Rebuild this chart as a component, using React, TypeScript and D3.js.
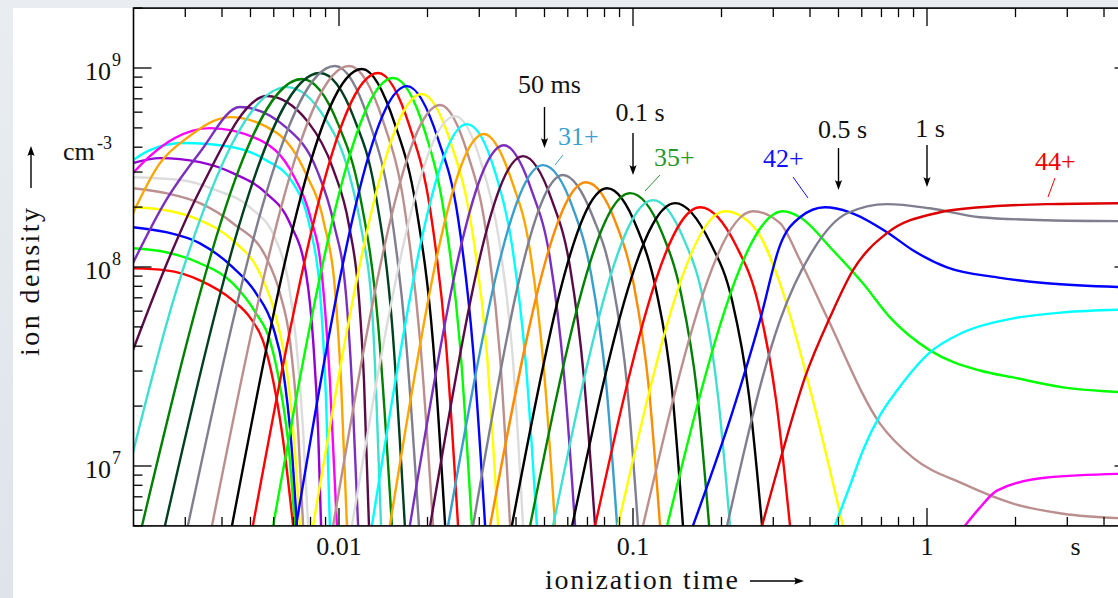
import React from 'react';
import * as d3 from 'd3';

// ---------- data ----------
// every point: [log10(time / s), log10(ion density / cm^-3)]
const q3 = [[-2.701,7.993],[-2.588,7.983],[-2.473,7.933],[-2.361,7.832],[-2.303,7.747],[-2.259,7.631],[-2.224,7.430],[-2.190,7.128],[-2.156,6.700]];
const q4 = [[-2.701,8.094],[-2.588,8.074],[-2.473,8.019],[-2.361,7.918],[-2.282,7.767],[-2.235,7.631],[-2.201,7.405],[-2.170,7.078],[-2.150,6.700]];
const q5 = [[-2.701,8.200],[-2.588,8.175],[-2.473,8.119],[-2.361,7.998],[-2.282,7.868],[-2.224,7.697],[-2.190,7.480],[-2.163,7.128],[-2.143,6.700]];
const q6 = [[-2.701,8.300],[-2.588,8.285],[-2.473,8.235],[-2.361,8.134],[-2.269,7.968],[-2.214,7.747],[-2.173,7.430],[-2.150,7.078],[-2.133,6.700]];
const q7 = [[-2.701,8.396],[-2.588,8.371],[-2.473,8.321],[-2.361,8.220],[-2.248,8.049],[-2.201,7.868],[-2.167,7.631],[-2.139,7.178],[-2.122,6.700]];
const q8 = [[-2.701,8.451],[-2.531,8.436],[-2.418,8.386],[-2.303,8.300],[-2.214,8.134],[-2.173,7.933],[-2.146,7.631],[-2.122,7.178],[-2.105,6.700]];
const q9 = [[-2.701,8.522],[-2.609,8.547],[-2.473,8.527],[-2.361,8.472],[-2.248,8.371],[-2.167,8.220],[-2.112,7.968],[-2.088,7.631],[-2.071,7.178],[-2.061,6.700]];
const q10 = [[-2.701,8.537],[-2.643,8.587],[-2.531,8.623],[-2.361,8.602],[-2.248,8.537],[-2.156,8.421],[-2.099,8.200],[-2.065,7.883],[-2.044,7.329],[-2.031,6.700]];
const q11 = [[-2.701,8.472],[-2.643,8.557],[-2.558,8.648],[-2.439,8.698],[-2.269,8.638],[-2.156,8.462],[-2.099,8.260],[-2.058,7.958],[-2.031,7.430],[-2.007,6.700]];
const q12 = [[-2.701,8.270],[-2.609,8.522],[-2.517,8.648],[-2.371,8.753],[-2.211,8.673],[-2.112,8.467],[-2.051,8.220],[-2.014,7.893],[-1.993,7.420],[-1.973,6.700]];
const q13 = [[-2.701,8.019],[-2.588,8.336],[-2.473,8.577],[-2.337,8.804],[-2.177,8.698],[-2.075,8.487],[-2.017,8.215],[-1.976,7.858],[-1.956,7.415],[-1.935,6.700]];
const q14 = [[-2.701,7.581],[-2.588,8.009],[-2.473,8.386],[-2.245,8.859],[-2.105,8.728],[-2.020,8.492],[-1.966,8.210],[-1.932,7.842],[-1.915,7.430],[-1.898,6.700]];
const q15 = [[-2.701,7.067],[-2.551,7.893],[-2.177,8.904],[-2.048,8.748],[-1.969,8.487],[-1.922,8.175],[-1.888,7.802],[-1.874,7.385],[-1.857,6.700]];
const q16 = [[-2.670,6.700],[-2.126,8.945],[-2.003,8.718],[-1.929,8.361],[-1.867,7.712],[-1.820,6.700]];
const q17 = [[-2.592,6.700],[-2.065,8.975],[-1.949,8.748],[-1.878,8.386],[-1.820,7.722],[-1.776,6.700]];
const q18 = [[-2.514,6.700],[-2.014,9.010],[-1.898,8.733],[-1.827,8.316],[-1.772,7.626],[-1.728,6.700]];
const q19 = [[-2.432,6.700],[-1.966,9.010],[-1.850,8.733],[-1.779,8.316],[-1.724,7.626],[-1.680,6.700]];
const q20 = [[-2.364,6.700],[-1.922,8.995],[-1.810,8.718],[-1.738,8.305],[-1.680,7.616],[-1.639,6.700]];
const q21 = [[-2.293,6.700],[-1.867,8.975],[-1.759,8.703],[-1.690,8.290],[-1.636,7.611],[-1.595,6.700]];
const q22 = [[-2.224,6.700],[-1.816,8.950],[-1.707,8.678],[-1.643,8.275],[-1.588,7.601],[-1.548,6.700]];
const q23 = [[-2.146,6.700],[-1.769,8.909],[-1.663,8.643],[-1.595,8.245],[-1.544,7.586],[-1.503,6.700]];
const q24 = [[-2.088,6.700],[-1.718,8.869],[-1.616,8.607],[-1.551,8.220],[-1.497,7.566],[-1.459,6.700]];
const q25 = [[-2.020,6.700],[-1.656,8.814],[-1.561,8.562],[-1.500,8.180],[-1.452,7.546],[-1.418,6.700]];
const q26 = [[-1.956,6.700],[-1.605,8.758],[-1.514,8.512],[-1.456,8.139],[-1.408,7.525],[-1.374,6.700]];
const q27 = [[-1.888,6.700],[-1.565,8.718],[-1.469,8.477],[-1.412,8.114],[-1.364,7.505],[-1.327,6.700]];
const q28 = [[-1.827,6.700],[-1.507,8.668],[-1.412,8.431],[-1.350,8.079],[-1.303,7.485],[-1.265,6.700]];
const q29 = [[-1.759,6.700],[-1.439,8.612],[-1.344,8.381],[-1.282,8.039],[-1.235,7.465],[-1.197,6.700]];
const q30 = [[-1.690,6.700],[-1.374,8.557],[-1.276,8.336],[-1.214,7.998],[-1.167,7.445],[-1.129,6.700]];
const q31 = [[-1.629,6.700],[-1.306,8.512],[-1.204,8.295],[-1.143,7.968],[-1.092,7.425],[-1.054,6.700]];
const q32 = [[-1.544,6.700],[-1.238,8.462],[-1.136,8.250],[-1.071,7.933],[-1.020,7.405],[-0.983,6.700]];
const q33 = [[-1.486,6.700],[-1.160,8.426],[-1.058,8.220],[-0.997,7.908],[-0.946,7.390],[-0.908,6.700]];
const q34 = [[-1.412,6.700],[-1.088,8.396],[-0.986,8.195],[-0.922,7.888],[-0.867,7.379],[-0.830,6.700]];
const q35 = [[-1.350,6.700],[-1.010,8.371],[-0.901,8.170],[-0.837,7.868],[-0.782,7.369],[-0.741,6.700]];
const q36 = [[-1.272,6.700],[-0.932,8.336],[-0.827,8.139],[-0.762,7.842],[-0.711,7.354],[-0.670,6.700]];
const q37 = [[-1.207,6.700],[-0.857,8.321],[-0.738,8.124],[-0.663,7.832],[-0.605,7.349],[-0.561,6.700]];
const q38 = [[-1.129,6.700],[-0.772,8.300],[-0.650,8.109],[-0.575,7.822],[-0.514,7.339],[-0.466,6.700]];
const q39 = [[-1.051,6.700],[-0.687,8.280],[-0.585,8.195],[-0.500,7.918],[-0.388,7.329],[-0.286,6.700]];
const q40 = [[-0.966,6.700],[-0.592,8.280],[-0.500,8.220],[-0.432,8.034],[-0.340,7.747],[-0.160,7.213],[-0.048,7.042],[0.122,6.911],[0.293,6.811],[0.463,6.760],[0.697,6.735]];
const q41 = [[-0.884,6.700],[-0.490,8.280],[-0.432,8.250],[-0.320,8.084],[-0.218,7.918],[-0.126,7.747],[0.010,7.581],[0.180,7.480],[0.293,7.445],[0.463,7.395],[0.697,7.369]];
const q42 = [[-0.796,6.700],[-0.660,7.279],[-0.568,7.732],[-0.500,8.109],[-0.432,8.250],[-0.347,8.300],[-0.262,8.275],[-0.136,8.175],[-0.048,8.084],[0.068,7.998],[0.238,7.948],[0.408,7.918],[0.697,7.898]];
const q43 = [[-0.680,6.700],[-0.500,7.732],[-0.388,8.084],[-0.272,8.270],[-0.136,8.316],[0.010,8.295],[0.180,8.250],[0.408,8.235],[0.697,8.230]];
const q44 = [[-0.561,6.700],[-0.490,7.078],[-0.415,7.445],[-0.330,7.747],[-0.252,7.983],[-0.136,8.170],[0.044,8.275],[0.180,8.300],[0.408,8.316],[0.697,8.321]];
const q45 = [[-0.313,6.700],[-0.262,6.901],[-0.218,7.078],[-0.160,7.254],[-0.102,7.379],[0.010,7.571],[0.122,7.671],[0.293,7.742],[0.463,7.772],[0.697,7.787]];
const q46 = [[0.129,6.700],[0.180,6.791],[0.238,6.876],[0.408,6.942],[0.697,6.962]];

const curves = [q3,q4,q5,q6,q7,q8,q9,q10,q11,q12,q13,q14,q15,q16,q17,q18,q19,q20,q21,q22,q23,q24,q25,q26,q27,q28,q29,q30,q31,q32,q33,q34,q35,q36,q37,q38,q39,q40,q41,q42,q43,q44,q45,q46];
const charges = d3.range(3, 47);

const RED = '#ff0000', LIME = '#00ff00', BLUE = '#0000ff', YELLOW = '#ffff00', ROSY = '#bc8f8f',
  LGRAY = '#dcdcdc', DVIOLET = '#9400d3', CYAN = '#00ffff', MAGENTA = '#ff00ff', ORANGE = '#ffa500',
  BVIOLET = '#7b2fbe', DPURPLE = '#5b0a48', TURQ = '#40e0d0', GREEN = '#008000', DGREEN = '#003f1f',
  GRAY = '#7f7f8f', BLACK = '#000000', STEEL = '#3a9fcc', DORANGE = '#ff8c00', DRED = '#dd0000';

const colors = [RED, LIME, BLUE, YELLOW, ROSY, LGRAY, DVIOLET, CYAN, MAGENTA, ORANGE, BVIOLET, DPURPLE, TURQ,
  GREEN, DGREEN, GRAY, ROSY, BLACK, RED, LIME, BLUE, YELLOW, ROSY, LGRAY, CYAN, ORANGE, BVIOLET, DPURPLE,
  STEEL, GRAY, DORANGE, BLACK, GREEN, TURQ, BLACK, RED, YELLOW, ROSY, LIME, BLUE, GRAY, DRED, CYAN, MAGENTA];

const xMajorTicks = [0.01, 0.1, 1];
const xMajorLabels = ['0.01', '0.1', '1'];
const yMajorTicks = [1e7, 1e8, 1e9];
const yMajorExps = ['7', '8', '9'];

const markerTimes = [0.05, 0.1, 0.5, 1];
const markerLabels = ['50 ms', '0.1 s', '0.5 s', '1 s'];

const labelCharges = ['31+', '35+', '42+', '44+'];
const labelColors = ['#3ca0d0', '#2a962a', '#1010ff', '#ee0000'];

// ---------- layout ----------
const W = 1118, H = 598;
const FONT = "'Liberation Serif', 'Times New Roman', serif";

const x = d3.scaleLog().domain([0.002, 5]).range([133.5, 1132.5]);
const y = d3.scaleLog().domain([5e6, 2e9]).range([525.9, 8.1]);

const line = d3.line<number[]>()
  .x(d => x(Math.pow(10, d[0])))
  .y(d => y(Math.pow(10, d[1])))
  .curve(d3.curveMonotoneX);

const isMajor = (v: number) => Math.abs(Math.log10(v) - Math.round(Math.log10(v))) < 1e-9;

function Arrow({ x0, y1, y2 }: { x0: number; y1: number; y2: number }) {
  return (
    <g>
      <line x1={x0} y1={y1} x2={x0} y2={y2 - 6} stroke="#000" strokeWidth={1.4} />
      <path d={`M${x0},${y2} L${x0 - 3.6},${y2 - 10} Q${x0},${y2 - 7} ${x0 + 3.6},${y2 - 10} Z`} fill="#000" />
    </g>
  );
}

export default function App() {
  const [x0, x1] = x.range();
  const [yb, yt] = y.range();
  const xt = x.ticks().filter(v => v > 0.002 * 1.0001);
  const yt2 = y.ticks();

  const markerLayout = [
    { tb: 93, a1: 107, a2: 148, dx: 5 },
    { tb: 121, a1: 133, a2: 175, dx: 7 },
    { tb: 138, a1: 148, a2: 190, dx: 4 },
    { tb: 137, a1: 145, a2: 187, dx: 3 },
  ];
  const chargeLayout = [
    { tx: 558, ty: 145, l: [563, 155, 555, 165] },
    { tx: 654, ty: 166, l: [660, 175, 645, 191] },
    { tx: 763, ty: 167, l: [793, 177, 808, 198] },
    { tx: 1035, ty: 170, l: [1055, 178, 1048, 197] },
  ];

  return (
    <svg width={W} height={H} style={{ position: 'absolute', left: 0, top: 0, background: '#fff' }}
      fontFamily={FONT}>
      <defs>
        <clipPath id="plotclip">
          <rect x={x0} y={yt} width={x1 - x0} height={yb - yt} />
        </clipPath>
        <linearGradient id="bg" x1="0" y1="0" x2="0" y2="1">
          <stop offset="0" stopColor="#e9edf1" />
          <stop offset="1" stopColor="#dfe4ea" />
        </linearGradient>
      </defs>
      <rect x={0} y={0} width={W} height={H} fill="url(#bg)" />
      <rect x={13} y={8} width={W} height={H} fill="#ffffff" />

      <g clipPath="url(#plotclip)" fill="none" strokeWidth={2.4} strokeLinejoin="round">
        {curves.map((c, i) => (
          <path key={charges[i]} d={line(c) || ''} stroke={colors[i]} />
        ))}
      </g>

      <rect x={x0} y={yt} width={x1 - x0} height={yb - yt} fill="none" stroke="#000" strokeWidth={1.6} />

      <g stroke="#000" strokeWidth={1.3}>
        {xt.map(v => {
          const L = isMajor(v) ? 18 : 9;
          const px = x(v);
          return (
            <g key={'xt' + v}>
              <line x1={px} x2={px} y1={yb} y2={yb - L} />
              <line x1={px} x2={px} y1={yt} y2={yt + L} />
            </g>
          );
        })}
        {yt2.map(v => {
          const L = isMajor(v) ? 18 : 9;
          const py = y(v);
          return (
            <g key={'yt' + v}>
              <line x1={x0} x2={x0 + L} y1={py} y2={py} />
              <line x1={x1} x2={x1 - L} y1={py} y2={py} />
            </g>
          );
        })}
      </g>

      <g fontSize={26} textAnchor="middle" fill="#111">
        {xMajorTicks.map((v, i) => (
          <text key={'xl' + v} x={x(v)} y={555}>{xMajorLabels[i]}</text>
        ))}
        <text x={x(3.2)} y={555}>s</text>
      </g>

      <g fill="#111">
        {yMajorTicks.map((v, i) => (
          <g key={'yl' + v}>
            <text x={111} y={y(v) + 12} fontSize={26} textAnchor="end">10</text>
            <text x={112} y={y(v) - 2} fontSize={18}>{yMajorExps[i]}</text>
          </g>
        ))}
        <text x={63} y={160} fontSize={26}>cm</text>
        <text x={97} y={149} fontSize={18}>-3</text>
      </g>

      <text transform="translate(39,356) rotate(-90)" fontSize={28} fill="#111" textLength={148} lengthAdjust="spacing">ion density</text>
      <g transform="translate(31,0)">
        <line x1={0} y1={188} x2={0} y2={154} stroke="#000" strokeWidth={1.4} />
        <path d="M0,146 L-3.6,156 Q0,153 3.6,156 Z" fill="#000" />
      </g>
      <text x={545} y={589} fontSize={28} fill="#111" textLength={193} lengthAdjust="spacing">ionization time</text>
      <g>
        <line x1={750} y1={581} x2={796} y2={581} stroke="#000" strokeWidth={1.4} />
        <path d="M804,581 L794,577.4 Q797,581 794,584.6 Z" fill="#000" />
      </g>

      {markerTimes.map((t, i) => {
        const m = markerLayout[i];
        const px = x(t);
        return (
          <g key={'m' + t}>
            <text x={px + m.dx} y={m.tb} fontSize={26} textAnchor="middle" fill="#111">{markerLabels[i]}</text>
            <Arrow x0={px} y1={m.a1} y2={m.a2} />
          </g>
        );
      })}

      {labelCharges.map((s, i) => {
        const c = chargeLayout[i];
        return (
          <g key={s}>
            <text x={c.tx} y={c.ty} fontSize={26} fill={labelColors[i]}>{s}</text>
            <line x1={c.l[0]} y1={c.l[1]} x2={c.l[2]} y2={c.l[3]} stroke={labelColors[i]} strokeWidth={1} />
          </g>
        );
      })}
    </svg>
  );
}
